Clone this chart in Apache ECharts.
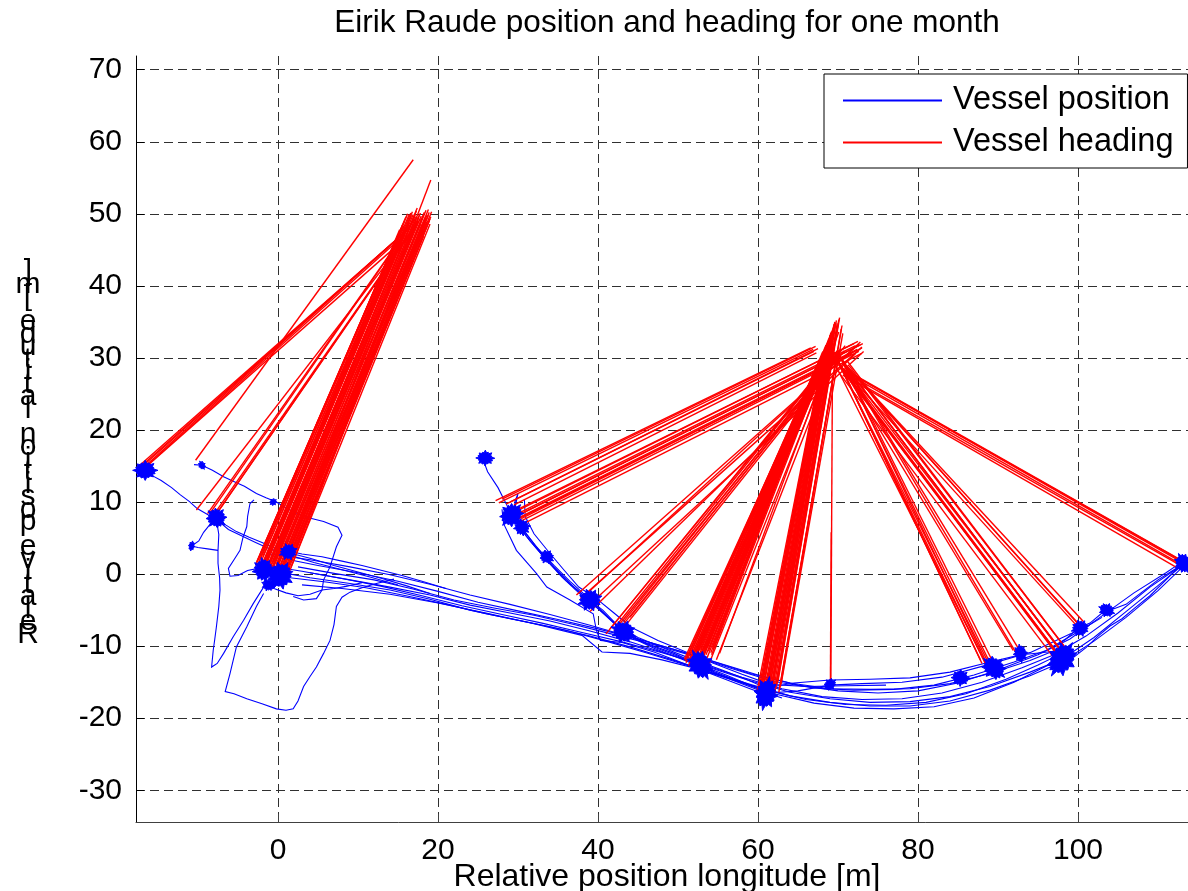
<!DOCTYPE html>
<html><head><meta charset="utf-8">
<script src="https://cdn.jsdelivr.net/npm/echarts@6/dist/echarts.min.js"></script>
<style>html,body{margin:0;padding:0;background:#fff}#c{width:1188px;height:891px}</style>
</head><body><div id="c"></div>
<script>
const FONT = "'Liberation Sans', Arial, Helvetica, sans-serif";
const titleText = 'Eirik Raude position and heading for one month';
const xTitle = 'Relative position longitude [m]';
const yTitle = 'Relative position latitude [m]';
const positionName = 'Vessel position';
const headingName = 'Vessel heading';
const xRange = [-17.75, 113.75];
const yRange = [-34.4, 71.9];
const xStep = 20;
const yStep = 10;

// ---- vessel position tracks [x, y] in metres ----
const trackMain1 = [[-1.5,1.2],[3,0.4],[8,-0.6],[13,-1.7],[18,-3.0],[23,-4.4],[28,-5.6],[33,-6.8],[38,-8.1],[43,-9.4],[48,-10.9],[53,-12.5],[58,-14.3],[63,-15.9],[68,-17.0],[73,-17.4],[78,-17.3],[83,-16.5],[88,-15.0],[93,-13.0],[97,-11.2],[101,-8.6],[105,-5.4],[109,-1.8],[113.2,1.4]];
const trackMain2 = [[0.5,2.2],[5,1.2],[10,0.2],[15,-1.0],[20,-2.4],[25,-3.9],[30,-5.1],[35,-6.3],[40,-7.6],[45,-9.0],[50,-10.6],[55,-12.3],[60,-14.0],[65,-15.4],[70,-16.2],[75,-16.5],[80,-16.2],[85,-15.1],[90,-13.3],[95,-11.2],[99,-9.0],[103,-5.8],[107,-2.6],[111,0.2],[113,1.7]];
const trackMain3 = [[1.5,-0.5],[6,-1.1],[11,-1.9],[16,-3.0],[21,-4.2],[26,-5.5],[31,-6.6],[36,-7.8],[41,-9.3],[46,-10.9],[51,-12.6],[56,-14.4],[61,-16.1],[66,-17.4],[71,-18.1],[76,-18.2],[81,-17.8],[86,-16.6],[91,-14.6],[95,-12.6],[98,-11.0]];
const trackMain4 = [[-0.5,0.4],[4,-0.5],[9,-1.3],[14,-2.2],[19,-3.5],[24,-5.0],[29,-6.2],[34,-7.3],[39,-8.6],[44,-10.1],[49,-11.8],[54,-13.6],[59,-15.3],[64,-16.9],[69,-17.8],[74,-18.3],[79,-18.3],[84,-17.6],[89,-16.1],[94,-14.1],[98,-12.2],[102,-9.3],[106,-6.0],[110,-2.3],[113,0.9]];
const trackMain5 = [[2.5,1.0],[7,0.1],[12,-0.8],[17,-2.1],[22,-3.6],[27,-4.7],[32,-5.7],[37,-7.0],[42,-8.4],[47,-9.8],[52,-11.4],[57,-13.2],[62,-14.9],[67,-15.8],[72,-16.1],[77,-16.0],[82,-15.4],[87,-14.0],[92,-12.2],[96,-10.6],[100,-8.0],[103,-6.0]];
const trackMain6 = [[3,-1.5],[8,-2.0],[14,-2.8],[20,-4.0],[26,-5.4],[32,-6.9],[38,-8.5],[40.5,-10.8],[44,-11.0],[48,-11.9],[53,-13.3],[58,-15.0],[62,-16.6],[67,-17.9],[72,-18.6],[77,-18.7],[82,-18.4],[87,-17.2],[92,-15.0],[96,-12.8],[99,-11.4]];
const trackMain7 = [[4,0.2],[9,-0.8],[14,-1.8],[19,-2.9],[24,-4.3],[29,-5.4],[34,-6.5],[39,-7.9],[44,-9.4],[49,-11.2],[54,-13.0],[59,-14.8],[64,-16.4],[69,-17.3],[74,-17.8],[79,-17.7],[84,-17.0],[89,-15.6],[94,-13.6],[98,-11.8],[102,-8.8],[106,-5.2],[110,-1.6],[113,1.2]];
const trackMain8 = [[-1,2.8],[4,2.0],[9,1.0],[14,-0.1],[19,-1.4],[24,-2.9],[29,-4.2],[34,-5.6],[39,-7.1],[44,-8.7],[49,-10.3],[54,-12.0],[59,-13.8],[64,-15.1],[69,-15.9],[74,-16.0],[79,-15.9],[84,-15.2],[89,-13.8],[94,-12.0],[98,-10.2]];
const trackUpper1 = [[25.5,16.3],[26.2,14.2],[27.5,12.0],[28.5,9.8],[29.3,8.0],[31.0,5.3],[33.2,2.4],[35.5,-0.4],[37.8,-2.8],[39.5,-4.3],[41.5,-6.2],[43.2,-7.9],[46,-9.6],[49.5,-11.0],[52.5,-12.5],[56,-14.0],[59,-15.4],[61.5,-16.5],[65,-16.2],[69,-15.4],[73,-15.2],[78,-15.0],[83,-14.3],[88,-12.8],[93,-11.2],[98,-10.6]];
const trackUpper2 = [[29.5,8.5],[30.0,11.2],[29.6,10.0],[29.8,7.2],[31.5,4.6],[33.7,1.8],[36.0,-0.9],[38.5,-3.2],[40.6,-5.0],[42.6,-7.3],[45,-8.8],[48.5,-10.4],[52.0,-11.9],[55.5,-13.3],[58.5,-14.6],[61.0,-15.8],[64.5,-15.1],[69,-14.7],[74,-14.6],[79,-14.4],[84,-13.6],[89,-12.2],[94,-10.9],[99,-8.3],[101,-7.4]];
const trackUpper3 = [[30.0,8.8],[30.5,6.4],[32.3,3.8],[34.5,1.0],[36.8,-1.6],[39.2,-4.0],[41.6,-6.4],[43.8,-8.6],[47,-10.3],[50.5,-11.8],[53.5,-13.2],[57,-14.8],[60.3,-16.2],[63,-17.2]];
const trackUpper4 = [[28.0,9.0],[28.2,7.0],[29.8,3.3],[32.3,0.1],[33.6,-1.8],[36.5,-3.6],[39.4,-5.5],[39.8,-7.8],[40.3,-9.2],[43,-9.5],[47,-10.8],[51,-12.5],[55,-14.2],[59,-15.9],[61.5,-16.9]];
const trackUpper5 = [[28.8,9.6],[29.5,7.8],[30.8,5.9],[32.5,3.5],[34.5,1.2],[36.5,-1.0],[38.2,-2.7],[40.0,-4.6],[41.8,-6.6],[43.5,-8.3],[46.5,-9.9],[50,-11.4],[53,-12.9],[56.5,-14.4],[60,-15.9]];
const trackUpper6 = [[30.8,10.4],[30.9,8.0],[32.0,5.6],[33.9,3.0],[35.8,0.5],[37.6,-1.8],[39.8,-3.4],[42.0,-5.4],[44.2,-7.4],[47.5,-9.2],[51.0,-10.8],[54.5,-12.4],[58.0,-13.9],[61.5,-15.3],[66,-15.6],[71,-15.5],[76,-15.4]];
const trackLeft1 = [[-16.6,14.4],[-15.6,13.6],[-14.6,13.0],[-13.3,12.0],[-12.2,11.0],[-11.1,10.1],[-10.1,9.1],[-8.7,8.2],[-7.7,7.8],[-6.5,6.8],[-5.2,5.9],[-3.6,5.1],[-2.0,4.4],[-0.8,3.8],[1.2,3.0],[4.0,2.2],[7.0,1.2],[10.0,0.3],[13.0,-0.6],[16.0,-1.6],[19.0,-2.7]];
const trackLeft2 = [[-7.7,7.6],[-6.2,6.2],[-4.5,5.3],[-2.8,4.4],[-1.0,3.5],[1.5,2.6],[4.5,1.6],[8.0,0.6],[11.5,-0.4],[15.0,-1.5]];
const trackLeft3 = [[-10.5,15.2],[-9.5,15.1],[-8.2,14.4],[-6.8,13.5],[-5.6,12.9],[-4.2,12.2],[-2.7,11.2],[-1.5,10.6],[-0.2,10.0],[1.1,9.1],[3.2,8.0],[5.7,7.3],[7.5,6.5],[8.0,5.4],[7.3,3.8],[6.5,1.0],[5.7,-0.8],[5.5,-2.2],[4.8,-3.4],[3.2,-3.6],[1.9,-3.1]];
const trackLeft4 = [[-3.0,10.3],[-3.5,9.8],[-3.8,8.0],[-3.9,6.6],[-4.4,5.0],[-4.75,3.3],[-5.5,2.0],[-6.2,0.8],[-6.0,-0.3],[-5.0,-0.2],[-3.8,0.5],[-2.5,0.8]];
const trackLeft5 = [[-7.7,7.6],[-7.4,5.5],[-7.5,3.2],[-7.5,1.5],[-7.3,-0.5],[-7.25,-2.2],[-7.4,-4.5],[-7.7,-7.3],[-7.9,-9.0],[-8.1,-10.6],[-8.3,-12.9],[-7.6,-12.4],[-6.8,-11.0],[-5.6,-8.7],[-4.3,-6.4],[-3.1,-4.1],[-1.8,-1.8],[-1.2,-1.0]];
const trackLeft6 = [[-1.8,-2.7],[-2.7,-4.5],[-3.9,-7.3],[-5.2,-10.1],[-6.0,-13.8],[-6.6,-16.3],[-5.5,-16.6],[-3.9,-17.3],[-2.0,-18.0],[-0.2,-18.7],[1.0,-18.9],[1.9,-18.7],[2.5,-17.6],[3.2,-15.6],[4.0,-14.2],[4.8,-12.9],[5.7,-11.0],[6.5,-9.2],[7.0,-7.0],[7.3,-4.5],[8.0,-3.2],[9.0,-2.5],[10.5,-1.9],[12.3,-1.3],[14.5,-0.7]];
const trackLeft7 = [[-1.5,-1.0],[-0.5,-2.0],[1.0,-2.6],[2.5,-3.0],[4.0,-2.8],[5.5,-2.2],[7.0,-2.0],[8.5,-1.7],[10.5,-1.2]];
const trackLeft8 = [[1.3,3.2],[3.0,2.8],[5.5,2.4],[8.0,1.8],[10.5,1.2],[13.0,0.5],[15.5,-0.2],[18.0,-1.0],[21.0,-2.0]];
const trackLeft9 = [[-7.7,7.8],[-8.5,6.9],[-9.3,5.8],[-9.9,4.6],[-10.8,3.9],[-10.0,3.7],[-8.8,3.5],[-7.5,3.3]];
const trackRight1 = [[97,-10.2],[98.5,-9.0],[100,-7.5],[101.5,-6.8],[103,-5.4],[104.5,-4.8],[106,-4.2],[108,-2.5],[110,-0.8],[112,0.6],[113.3,1.5]];
const trackRight2 = [[98,-12],[99.5,-11.5],[101,-10.2],[102.5,-8.6],[104,-7.2],[105.5,-6.2],[107,-4.8],[109,-3.0],[111,-0.8],[112.6,1.0]];

// ---- station-keeping clusters [x, y, spreadX, spreadY] in metres ----
const clusters = [
  [-16.6,14.4,3.2,2.8],[-7.7,7.8,2.8,3.0],[-1.8,0.6,3.2,3.2],[0.3,-0.2,3.8,3.8],[1.3,3.1,2.4,2.4],[-1.2,-1.5,1.8,1.8],
  [-9.5,15.1,1.2,1.0],[-10.8,3.9,1.3,0.9],[-0.6,10.0,1.0,1.0],
  [25.9,16.1,2.4,2.2],[29.2,8.2,3.0,3.8],[30.5,6.5,2.2,2.4],[33.6,2.4,1.8,2.2],[39.0,-3.6,3.2,3.2],[43.2,-8.0,3.4,3.2],
  [52.8,-12.6,4.2,3.6],[61.0,-16.6,4.4,3.4],[69.0,-15.3,1.8,1.6],[85.3,-14.4,2.4,2.4],[89.5,-13.0,3.6,3.2],
  [92.8,-11.0,2.4,2.0],[98.0,-11.8,5.0,4.0],[100.3,-7.5,2.4,2.4],[103.6,-5.0,2.2,2.0],[113.2,1.5,2.8,2.6]
];

// ---- heading lines [x1, y1, x2, y2] in metres ----
const headingA = [[-17.6,14.8,15.2,46.8],[-17.2,14.9,15.5,47.1],[-16.9,15.0,15.8,47.4],[-16.5,15.1,16.1,47.7],[-16.2,15.2,15.0,46.3],[-16.8,14.6,15.3,46.0],[-10.3,15.8,16.9,57.5]];
const headingB = [[-8.8,8.4,17.0,49.2],[-8.4,8.6,17.3,49.6],[-8.0,8.3,17.5,48.9],[-7.6,8.5,17.8,49.3],[-7.9,8.0,17.1,48.3],[-10.2,8.9,17.4,48.6]];
const headingC = [[-2.6,1.8,16.0,49.6],[-2.4,2.2,15.6,48.5],[-2.2,1.5,16.4,49.9],[-2.0,2.6,15.2,47.8],[-1.9,1.0,16.8,50.3],[-1.7,1.9,16.5,49.4],
  [-1.5,0.6,17.1,49.7],[-1.4,2.3,15.9,48.1],[-1.2,1.2,17.3,50.4],[-1.0,0.3,17.6,49.5],[-0.9,1.7,16.9,48.6],[-0.7,0.8,17.8,50.1],
  [-0.5,2.0,17.0,47.9],[-0.4,0.1,18.0,49.3],[-0.2,1.4,17.5,48.9],[0.0,0.5,18.3,50.2],[0.2,-0.3,18.1,48.7],[0.3,1.1,18.6,49.8],
  [0.5,0.2,18.4,48.2],[0.7,2.4,18.8,50.6],[0.9,-0.5,17.9,47.4],[1.1,0.7,18.9,49.0],[1.3,2.9,18.5,50.5],[1.5,1.6,19.1,49.6],
  [-2.8,1.2,14.6,46.0],[-2.3,0.4,15.0,46.3],[-1.6,-0.2,15.4,45.2],[0.4,-0.6,17.2,46.2],[1.0,-0.9,17.7,47.2],[-1.1,2.9,16.2,50.0],
  [1.7,3.1,19.2,50.3],[-0.3,3.0,17.4,50.8],[1.5,3.4,19.1,54.7],[2.2,3.2,17.8,47.4],[1.9,2.6,18.2,46.9],
  [-2.5,1.4,15.8,49.0],[-2.3,2.0,15.4,48.0],[-2.1,1.1,16.6,50.1],[-1.9,2.4,15.7,48.3],[-1.8,0.7,16.9,49.9],[-1.6,1.5,16.7,49.8],
  [-1.4,0.9,17.2,50.0],[-1.3,1.8,16.4,48.8],[-1.1,0.5,17.4,49.6],[-0.9,1.2,17.1,49.2],[-0.8,0.3,17.7,49.9],[-0.6,1.6,17.3,49.0],
  [-0.4,0.7,17.9,49.7],[-0.3,2.2,17.2,48.4],[-0.1,0.9,18.2,49.9],[0.1,1.8,17.8,48.5],[0.2,0.4,18.4,49.5],[0.4,1.5,18.5,49.4],
  [0.6,0.9,18.6,48.9],[0.8,1.9,18.9,50.2],[1.0,0.2,18.2,47.9],[1.2,1.3,19.0,49.3],[1.4,2.2,18.8,49.8],[1.6,0.9,19.0,48.6],
  [-2.7,1.6,15.1,47.0],[-2.0,0.2,15.9,47.2],[0.0,-0.4,17.6,47.0]];
const headingE = [[27.2,10.2,66.6,31.4],[27.6,9.9,66.9,31.2],[28.0,10.4,67.2,31.6],[28.5,9.7,67.0,30.9],[29.0,10.0,67.5,31.3],[29.5,9.6,67.3,30.7],
  [28.5,8.2,72.0,32.0],[28.9,7.8,72.2,31.7],[29.2,8.4,72.5,32.3],[29.5,7.5,72.4,31.2],[29.8,8.0,72.8,31.8],[30.1,7.2,72.6,30.9],
  [30.4,7.7,73.0,31.4],[30.7,7.0,72.9,30.6],[29.0,7.1,71.8,30.6],[30.2,8.3,73.1,32.0]];
const headingF = [[37.3,-2.9,72.6,31.9],[37.8,-3.4,73.0,31.5],[38.3,-3.0,72.8,32.2],[38.8,-4.4,73.2,30.9],[39.0,-5.2,72.2,30.6]];
const headingG = [[41.0,-8.3,69.2,30.0],[41.5,-7.6,69.4,30.4],[42.0,-7.9,69.8,30.2],[42.4,-7.0,69.9,30.9],[42.8,-7.5,70.3,30.6],[43.2,-6.6,70.4,31.3],[43.6,-6.9,70.8,31.0],[44.0,-6.0,70.9,31.7]];
const headingH = [[50.8,-11.8,66.8,27.0],[51.0,-12.3,67.1,27.4],[51.2,-11.4,67.0,27.9],[51.4,-12.0,67.4,28.2],[51.6,-11.0,67.3,28.8],[51.8,-12.6,67.8,28.4],
  [52.0,-11.6,67.9,29.3],[52.2,-10.8,67.7,29.8],[52.4,-12.2,68.2,29.6],[52.6,-11.3,68.3,30.3],[52.8,-10.5,68.1,30.9],[53.0,-12.0,68.6,30.5],
  [53.2,-11.0,68.7,31.2],[53.4,-10.3,68.5,31.8],[53.6,-11.7,69.0,31.4],[53.8,-10.7,69.1,32.1],[54.0,-10.0,68.9,32.8],[54.2,-11.2,69.4,32.4],
  [54.4,-10.4,69.5,33.2],[52.5,-12.8,68.4,28.9],[51.3,-12.7,67.5,27.6],[53.9,-12.4,69.2,30.2],[54.8,-11.9,69.9,31.0],[55.2,-11.0,70.1,33.6],
  [50.9,-12.0,67.0,27.2],[51.1,-11.6,67.2,27.9],[51.5,-11.7,67.6,28.4],[51.7,-12.3,67.7,28.0],[51.9,-11.2,67.6,29.1],[52.1,-11.9,68.0,29.1],
  [52.3,-11.1,67.9,29.9],[52.7,-11.9,68.4,30.0],[52.9,-11.1,68.4,30.6],[53.1,-11.5,68.8,30.8],[53.3,-10.7,68.6,31.5],[53.5,-11.2,69.0,31.6],
  [53.7,-10.2,68.8,32.4],[54.1,-10.9,69.2,32.5],[54.3,-10.1,69.3,33.0]];
const headingI = [[59.9,-16.2,68.0,29.5],[60.1,-16.8,68.2,30.0],[60.3,-15.9,68.3,30.8],[60.5,-16.5,68.5,31.2],[60.7,-15.6,68.6,31.9],[60.9,-16.9,68.8,32.3],
  [61.1,-16.1,69.0,32.9],[61.3,-15.4,69.1,33.5],[61.5,-16.6,69.3,33.9],[61.7,-15.8,69.5,34.4],[61.9,-15.1,69.6,35.0],[62.1,-16.3,69.8,35.2],
  [62.3,-15.5,70.0,34.6],[62.5,-14.9,70.2,35.6],[62.0,-16.9,69.7,33.1],[60.2,-17.1,68.1,28.9],[61.6,-17.0,69.4,31.7],[62.7,-15.9,70.4,34.0],
  [62.9,-15.2,70.6,33.4],[62.6,-16.4,69.9,30.5],
  [60.0,-16.5,68.1,29.7],[60.2,-16.4,68.2,30.4],[60.4,-16.2,68.4,31.0],[60.6,-16.1,68.5,31.5],[60.8,-16.3,68.7,32.1],[61.0,-15.9,68.9,32.6],
  [61.2,-16.4,69.0,33.2],[61.4,-15.9,69.2,33.7],[61.6,-16.2,69.4,34.2],[61.8,-15.5,69.5,34.7],[62.0,-15.7,69.7,34.9],[62.2,-15.9,69.9,34.8],
  [62.4,-15.2,70.1,35.3],[61.3,-16.8,69.1,32.6],[62.8,-15.6,70.5,34.5]];
const headingJ = [[69.1,-15.3,69.3,27.6],[69.05,-15.2,69.15,5.8]];
const headingK = [[112.2,1.0,70.6,27.6],[112.5,1.6,70.9,28.0],[112.8,1.2,71.2,27.4],[113.1,1.8,71.0,28.3],[113.4,1.4,71.5,27.9],[112.7,2.0,70.4,28.6]];
const headingO = [[100.0,-6.9,70.6,29.5],[100.4,-7.3,70.9,29.0],[100.7,-6.6,71.3,28.6],[100.2,-7.6,70.3,28.9]];
const headingN = [[96.8,-10.0,70.0,29.4],[97.0,-10.6,70.2,29.0],[97.2,-9.7,70.5,29.6],[97.4,-11.1,70.3,28.6],[97.6,-10.3,70.8,29.2],[97.8,-11.5,70.6,28.3],
  [98.0,-10.8,71.0,28.8],[98.2,-9.9,71.2,29.5],[98.4,-11.3,71.1,28.1],[98.6,-10.5,71.4,28.9],[97.1,-11.8,70.1,28.0],[98.1,-12.0,70.9,27.8]];
const headingM = [[91.9,-10.6,69.9,29.8],[92.3,-11.0,70.2,30.3],[92.6,-10.4,70.4,30.0]];
const headingL = [[87.8,-11.9,69.5,30.8],[88.0,-12.4,69.7,30.4],[88.3,-11.7,69.9,31.1],[88.6,-12.8,69.8,29.9],[88.9,-12.1,70.1,30.5],[89.2,-13.2,70.0,29.5],[89.5,-12.5,70.4,30.1],[89.0,-13.6,69.6,29.2]];

const positionTracks = [trackMain1, trackMain2, trackMain3, trackMain4, trackMain5, trackMain6, trackMain7, trackMain8,
  trackUpper1, trackUpper2, trackUpper3, trackUpper4, trackUpper5, trackUpper6,
  trackLeft1, trackLeft2, trackLeft3, trackLeft4, trackLeft5, trackLeft6, trackLeft7, trackLeft8, trackLeft9,
  trackRight1, trackRight2];
const headingGroups = [headingA, headingB, headingC, headingE, headingF, headingG, headingH, headingI, headingJ, headingK, headingO, headingN, headingM, headingL];

// unit spiky outline used for the cluster blobs (style only)
const BLOB = [[0,-0.5],[0.067,-0.334],[0.153,-0.37],[0.189,-0.282],[0.339,-0.339],[0.282,-0.189],[0.333,-0.138],[0.334,-0.067],
  [0.5,0],[0.334,0.067],[0.388,0.161],[0.282,0.189],[0.325,0.325],[0.189,0.282],[0.146,0.351],[0.067,0.334],
  [0,0.5],[-0.067,0.334],[-0.157,0.379],[-0.189,0.282],[-0.332,0.332],[-0.282,0.189],[-0.342,0.142],[-0.334,0.067],
  [-0.49,0],[-0.334,-0.067],[-0.37,-0.153],[-0.282,-0.189],[-0.318,-0.318],[-0.189,-0.282],[-0.149,-0.36],[-0.067,-0.334]];

const headingSegments = [];
headingGroups.forEach(g => g.forEach(s => headingSegments.push({coords: [[s[0], s[1]], [s[2], s[3]]]})));

const chart = echarts.init(document.getElementById('c'), null, {renderer: 'canvas'});
chart.setOption({
  animation: false,
  backgroundColor: '#fff',
  textStyle: {fontFamily: FONT},
  title: {
    text: titleText, left: 662, top: 2, textAlign: 'center',
    textStyle: {fontFamily: FONT, fontSize: 31.5, fontWeight: 'normal', color: '#000'}
  },
  legend: {
    orient: 'vertical', left: 824, top: 74,
    padding: [10, 14, 9, 19], itemGap: 9,
    itemWidth: 99, itemHeight: 2,
    borderColor: '#000', borderWidth: 1, backgroundColor: '#fff',
    textStyle: {fontFamily: FONT, fontSize: 32.5, color: '#000', padding: [0, 0, 0, 6]},
    data: [
      {name: positionName, icon: 'rect', itemStyle: {color: '#0000ff', borderWidth: 0}},
      {name: headingName, icon: 'rect', itemStyle: {color: '#ff0000', borderWidth: 0}}
    ]
  },
  graphic: [{
    type: 'text', x: 28, y: 453, silent: true,
    style: {
      text: yTitle.split('').reverse().join('\n'),
      fontFamily: FONT, fontSize: 30, lineHeight: 12.5, fill: '#000',
      align: 'center', verticalAlign: 'middle'
    }
  }],
  grid: {left: 136, right: 0, top: 56, bottom: 69, containLabel: false, outerBoundsMode: 'none'},
  xAxis: {
    type: 'value', min: xRange[0], max: xRange[1], minInterval: xStep, maxInterval: xStep, splitNumber: 6,
    name: xTitle, nameLocation: 'middle', nameGap: 55, nameMoveOverlap: false,
    nameTextStyle: {fontFamily: FONT, fontSize: 32, color: '#000', verticalAlign: 'middle', padding: [0, 0, 0, 10]},
    axisLine: {show: true, onZero: false, lineStyle: {color: '#404040', width: 1}},
    axisTick: {show: true, inside: true, length: 8, lineStyle: {color: '#404040'}},
    axisLabel: {fontFamily: FONT, fontSize: 30, color: '#000', margin: 14, showMinLabel: false, showMaxLabel: false},
    splitLine: {show: true, showMinLine: false, showMaxLine: false, lineStyle: {color: '#303030', type: [9, 5], width: 1}}
  },
  yAxis: {
    type: 'value', min: yRange[0], max: yRange[1], minInterval: yStep, maxInterval: yStep, splitNumber: 10,
    axisLine: {show: true, onZero: false, lineStyle: {color: '#000', width: 1}},
    axisTick: {show: true, inside: true, length: 8, lineStyle: {color: '#000'}},
    axisLabel: {fontFamily: FONT, fontSize: 30, color: '#000', margin: 14, showMinLabel: false, showMaxLabel: false},
    splitLine: {show: true, showMinLine: false, showMaxLine: false, lineStyle: {color: '#303030', type: [9, 5], width: 1}}
  },
  series: [
    {
      name: positionName, type: 'lines', coordinateSystem: 'cartesian2d', polyline: true, z: 2,
      data: positionTracks.map(t => ({coords: t})),
      lineStyle: {color: '#0000ff', width: 1.1, opacity: 1},
      itemStyle: {color: '#0000ff'}, silent: true
    },
    {
      name: headingName, type: 'lines', coordinateSystem: 'cartesian2d', z: 3,
      data: headingSegments,
      lineStyle: {color: '#ff0000', width: 1.4, opacity: 1},
      itemStyle: {color: '#ff0000'}, silent: true
    },
    {
      name: positionName, type: 'custom', coordinateSystem: 'cartesian2d', z: 4,
      data: clusters,
      encode: {x: 0, y: 1},
      renderItem: function (params, api) {
        const c = api.coord([api.value(0), api.value(1)]);
        const s = api.size([api.value(2), api.value(3)]);
        const rot = params.dataIndex * 0.7;
        const cs = Math.cos(rot), sn = Math.sin(rot);
        const pts = BLOB.map(p => {
          const u = p[0] * s[0], v = p[1] * s[1];
          return [c[0] + u * cs - v * sn, c[1] + u * sn + v * cs];
        });
        return {type: 'polygon', shape: {points: pts}, style: {fill: '#0000ff', stroke: '#0000ff', lineWidth: 1}};
      },
      itemStyle: {color: '#0000ff'}, silent: true
    }
  ]
});
</script>
</body></html>
